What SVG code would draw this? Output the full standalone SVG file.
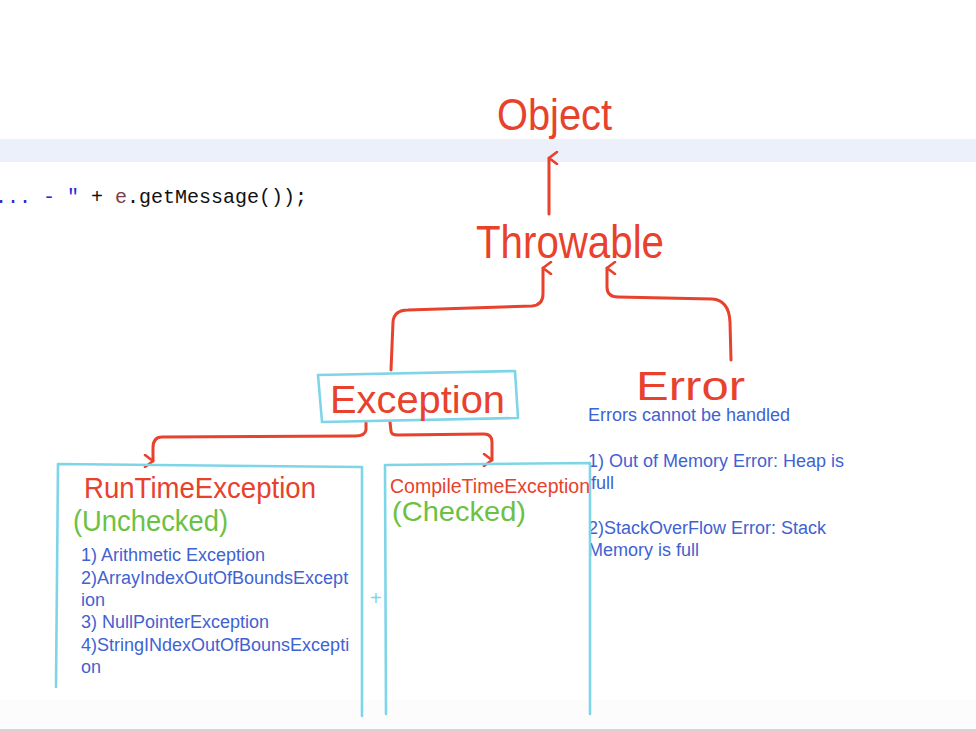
<svg xmlns="http://www.w3.org/2000/svg" width="976" height="731" viewBox="0 0 976 731">
<style>
.hand{font-family:"Liberation Sans","DejaVu Sans",sans-serif;fill:#e8412c}
.green{font-family:"Liberation Sans","DejaVu Sans",sans-serif;fill:#6cc144}
.note{font-family:"Liberation Sans",Arial,sans-serif;font-size:18px;fill:#3f62d2}
.code{font-family:"Liberation Mono","DejaVu Sans Mono",monospace;font-size:20px}
.box{fill:none;stroke:#7fd5e8;stroke-width:2.6;stroke-linecap:round;stroke-linejoin:round}
.conn{fill:none;stroke:#e8412c;stroke-width:3;stroke-linecap:round;stroke-linejoin:round}
</style>
<defs>
<marker id="ah" viewBox="0 0 14 12" refX="7" refY="2" markerWidth="14" markerHeight="12" markerUnits="userSpaceOnUse" orient="auto-start-reverse">
<path d="M1,10 L7,2 L13,10" fill="none" stroke="#e8412c" stroke-width="2.6" stroke-linecap="round" stroke-linejoin="round"/>
</marker>
</defs>
<rect x="0" y="0" width="976" height="731" fill="#ffffff"/>
<rect x="0" y="139" width="976" height="23" fill="#ebf0fb"/>
<rect x="0" y="700" width="976" height="29" fill="#fcfcfd"/>
<rect x="0" y="729" width="976" height="2" fill="#d4d4d6"/>
<text class="code" x="-5" y="203"><tspan fill="#2b28d8">... - "</tspan><tspan fill="#111"> + </tspan><tspan fill="#7a3e48">e</tspan><tspan fill="#111">.getMessage());</tspan></text>

<g id="connectors">
<path class="conn" d="M549,214 L549,158" marker-end="url(#ah)"/>
<path class="conn" d="M391,370 L393,322 Q394,310 408,310 L532,306 Q543,305 543,294 L543,268" marker-end="url(#ah)"/>
<path class="conn" d="M731,360 L730,322 Q729,300 712,299 L618,297 Q607,297 607,287 L607,268" marker-end="url(#ah)"/>
<path class="conn" d="M366,422 L366,430 Q365,436 355,436 L162,437 Q153,437 153,448 L153,461" marker-end="url(#ah)"/>
<path class="conn" d="M390,422 L391,431 Q391,435 398,435 L484,434 Q492,434 492,442 L492,460" marker-end="url(#ah)"/>
</g>

<g id="object"><text class="hand" x="497" y="130" font-size="44" textLength="115" lengthAdjust="spacingAndGlyphs">Object</text></g>
<g id="throwable"><text class="hand" x="476" y="258" font-size="46" textLength="188" lengthAdjust="spacingAndGlyphs">Throwable</text></g>
<g id="exception">
<path class="box" d="M318,375 L515,371 L518,418 L322,422 Z"/>
<text class="hand" x="330" y="413" font-size="38" textLength="175" lengthAdjust="spacingAndGlyphs">Exception</text>
</g>
<g id="error">
<text class="hand" x="636" y="400" font-size="40" textLength="109" lengthAdjust="spacingAndGlyphs">Error</text>
<text class="note" x="588" y="421">Errors cannot be handled</text>
<text class="note" x="588" y="467">1) Out of Memory Error: Heap is</text>
<text class="note" x="591" y="489">full</text>
<text class="note" x="588" y="534">2)StackOverFlow Error: Stack</text>
<text class="note" x="588" y="556">Memory is full</text>
</g>
<g id="runtime">
<path class="box" d="M56,687 L58,464 L362,467 L362,716"/>
<text class="hand" x="84" y="498" font-size="30" textLength="232" lengthAdjust="spacingAndGlyphs">RunTimeException</text>
<text class="green" x="73" y="531" font-size="30" textLength="155" lengthAdjust="spacingAndGlyphs">(Unchecked)</text>
<text class="note" x="81" y="561">1) Arithmetic Exception</text>
<text class="note" x="81" y="584">2)ArrayIndexOutOfBoundsExcept</text>
<text class="note" x="81" y="606">ion</text>
<text class="note" x="81" y="628">3) NullPointerException</text>
<text class="note" x="81" y="651">4)StringINdexOutOfBounsExcepti</text>
<text class="note" x="81" y="673">on</text>
<text x="370" y="605" font-family="Liberation Sans,sans-serif" font-size="20" fill="#7fd5e8">+</text>
</g>
<g id="compiletime">
<path class="box" d="M386,714 L385,465 L590,463 L590,714"/>
<text class="hand" x="390" y="493" font-size="21" textLength="200" lengthAdjust="spacingAndGlyphs">CompileTimeException</text>
<text class="green" x="392" y="521" font-size="28" textLength="134" lengthAdjust="spacingAndGlyphs">(Checked)</text>
</g>
</svg>
